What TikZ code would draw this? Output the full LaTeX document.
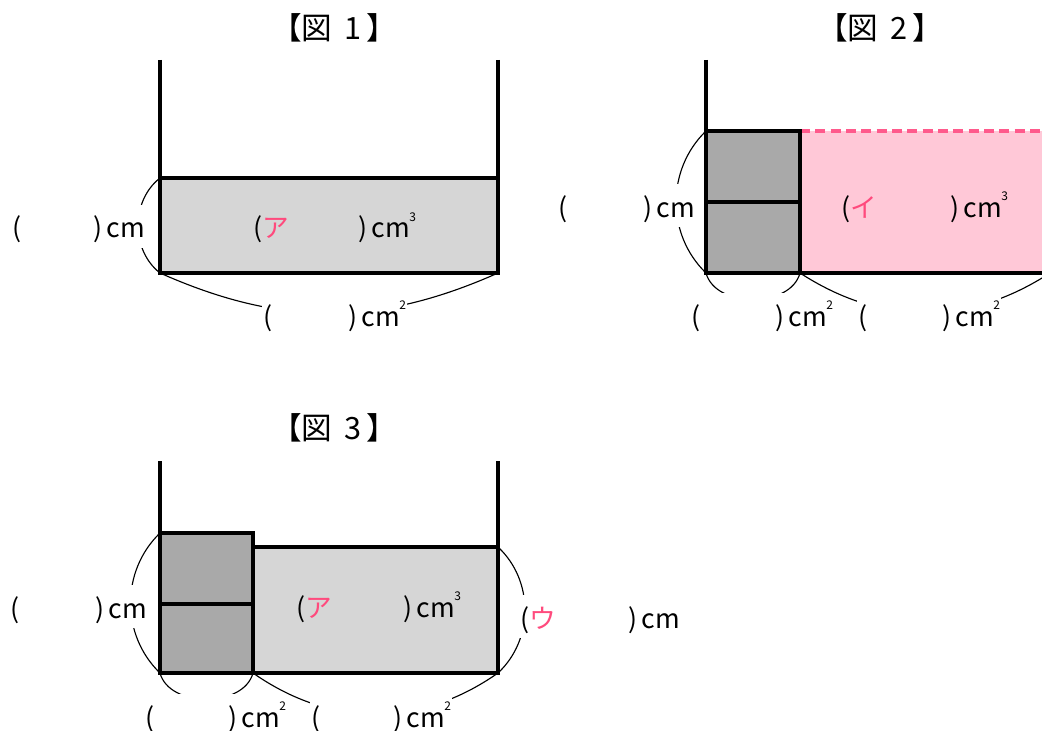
\documentclass[tikz,border=0pt]{standalone}
\usepackage{fontspec}
\setmainfont{Noto Sans CJK JP}
\usepackage{xcolor}
\definecolor{lgray}{HTML}{D6D6D6}
\definecolor{dgray}{HTML}{A9A9A9}
\definecolor{pinkfill}{HTML}{FFC8D7}
\definecolor{pinkline}{HTML}{FF5A8C}
\definecolor{pinktext}{HTML}{FF4A7D}
\newlength\pxu \setlength\pxu{0.75pt}
\newcommand\cmsup[1]{cm\kern-0.02em\raisebox{0.62em}{\fontsize{9pt}{9pt}\selectfont #1}}
\newcommand\lbl[2]{\makebox[#1\pxu][l]{(#2})\hspace{0.15em}}
\newcommand\pk[1]{\textcolor{pinktext}{#1}}
\begin{document}
\begin{tikzpicture}[x=0.75pt,y=-0.75pt,
  font=\fontsize{20pt}{24pt}\selectfont,
  wall/.style={line width=2.5pt},
  box/.style={line width=2.5pt},
  brace/.style={line width=0.85pt},
  lab/.style={anchor=base west, fill=white, inner xsep=1pt, inner ysep=0pt, text height=25pt, text depth=7.5pt},
  labc/.style={anchor=base west, inner sep=1pt},
  ttl/.style={font=\fontsize{23pt}{26pt}\selectfont}]
\useasboundingbox (0,0) rectangle (1042,731);
\clip (0,0) rectangle (1042,731);
% ---------- Figure 1 ----------
\node[ttl] (t1) at (334,28) {【図\hspace{0.4em}1\hspace{0.15em}】};
\coordinate (w1l) at (160,60);
\coordinate (w1r) at (498,60);
\coordinate (a1) at (160,178);
\coordinate (b1) at (160,273);
\coordinate (c1) at (498,273);
\fill[lgray] (a1) rectangle (c1);
\draw[box] (a1) rectangle (c1);
\draw[wall] (w1l) -- (b1);
\draw[wall] (w1r) -- (c1);
\draw[brace] (a1) to[bend right=52] (b1);
\draw[brace] (b1) to[bend right=24] (c1);
\node[lab] (h1) at (11,238) {\lbl{81}{}cm};
\node[labc] (v1) at (252,238) {\lbl{105}{\pk{ア}}\cmsup{3}};
\node[lab] (s1) at (262,326) {\lbl{85}{}\cmsup{2}};
% ---------- Figure 2 ----------
\node[ttl] (t2) at (880,28) {【図\hspace{0.4em}2\hspace{0.15em}】};
\coordinate (w2) at (706,60);
\coordinate (a2) at (706,131);
\coordinate (b2) at (706,273);
\coordinate (e2) at (800,131);
\coordinate (f2) at (800,273);
\coordinate (m2) at (706,202);
\coordinate (n2) at (800,202);
\coordinate (g2) at (1060,131);
\coordinate (h2) at (1060,273);
\coordinate (r2) at (1050,273);
\fill[pinkfill] (e2) rectangle (h2);
\draw[pinkline, line width=2.3pt, dash pattern=on 7.5pt off 4pt] (e2) -- (g2);
\draw[box] (f2) -- (h2);
\fill[dgray] (a2) rectangle (f2);
\draw[box] (a2) rectangle (f2);
\draw[box] (m2) -- (n2);
\draw[wall] (w2) -- (b2);
\draw[brace] (a2) to[bend right=46] (b2);
\draw[brace] (b2) to[bend right=75] (f2);
\draw[brace] (f2) to[bend right=33] (r2);
\node[lab] (h2l) at (557,217) {\lbl{85}{}cm};
\node[labc] (v2) at (840,217) {\lbl{109}{\pk{イ}}\cmsup{3}};
\node[lab] (s2a) at (690,326) {\lbl{84}{}\cmsup{2}};
\node[lab] (s2b) at (857,326) {\lbl{84}{}\cmsup{2}};
% ---------- Figure 3 ----------
\node[ttl] (t3) at (334,428) {【図\hspace{0.4em}3\hspace{0.15em}】};
\coordinate (w3l) at (160,461);
\coordinate (w3r) at (498,461);
\coordinate (a3) at (160,533);
\coordinate (b3) at (160,673);
\coordinate (e3) at (253,533);
\coordinate (f3) at (253,673);
\coordinate (m3) at (160,604);
\coordinate (n3) at (253,604);
\coordinate (p3) at (253,547);
\coordinate (q3) at (498,547);
\coordinate (c3) at (498,673);
\fill[lgray] (p3) rectangle (c3);
\draw[box] (p3) rectangle (c3);
\fill[dgray] (a3) rectangle (f3);
\draw[box] (a3) rectangle (f3);
\draw[box] (m3) -- (n3);
\draw[wall] (w3l) -- (b3);
\draw[wall] (w3r) -- (c3);
\draw[brace] (a3) to[bend right=46] (b3);
\draw[brace] (q3) to[bend left=47] (c3);
\draw[brace] (b3) to[bend right=75] (f3);
\draw[brace] (f3) to[bend right=35] (c3);
\node[lab] (h3) at (9,618) {\lbl{85}{}cm};
\node[labc] (v3) at (295,617) {\lbl{107}{\pk{ア}}\cmsup{3}};
\node[lab] (u3) at (519,628) {\lbl{108}{\pk{ウ}}cm};
\node[lab] (s3a) at (144,727) {\lbl{83}{}\cmsup{2}};
\node[lab] (s3b) at (310,727) {\lbl{82}{}\cmsup{2}};
\end{tikzpicture}
\end{document}
